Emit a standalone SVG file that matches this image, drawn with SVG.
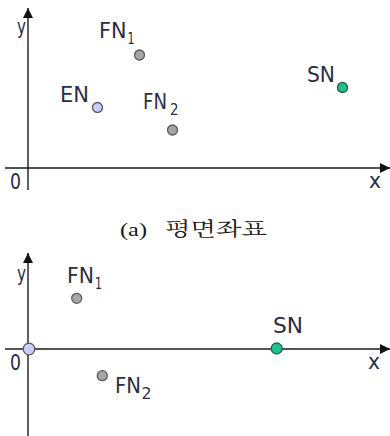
<svg xmlns="http://www.w3.org/2000/svg" width="390" height="436" viewBox="0 0 390 436">
<style>
.ax{stroke:#1a1a1a;stroke-width:1.4;fill:none}
.lb{font-family:"DejaVu Sans",Verdana,sans-serif;font-size:21px;fill:#2b2b48}
.sb{font-family:"DejaVu Sans",Verdana,sans-serif;font-size:15px;fill:#2b2b48}
.fn{fill:#a6a6a6;stroke:#5a5a5a;stroke-width:1.3}
.en{fill:#ccccff;stroke:#5a5a5a;stroke-width:1.3}
.sn{fill:#1ec28e;stroke:#2f5a4a;stroke-width:1.3}
.cap{font-size:19px;fill:#1a1a1a}
</style>
<defs>
<marker id="arr" markerUnits="userSpaceOnUse" markerWidth="10" markerHeight="10" refX="10" refY="5" orient="auto">
<path d="M0,0 L10,5 L0,10 z" fill="#111"/>
</marker>
</defs>
<rect width="390" height="436" fill="#fff"/>
<g id="connectors">
<line class="ax" x1="28" y1="190" x2="28" y2="8" marker-end="url(#arr)"/>
<line class="ax" x1="5" y1="168" x2="390" y2="168" marker-end="url(#arr)"/>
<line class="ax" x1="28" y1="436" x2="28" y2="253" marker-end="url(#arr)"/>
<line class="ax" x1="5" y1="349" x2="390" y2="349" marker-end="url(#arr)"/>
</g>
<g id="axis-labels-top">
<text class="lb" x="17" y="34" textLength="9" lengthAdjust="spacingAndGlyphs">y</text>
<text class="lb" x="10" y="189" textLength="11" lengthAdjust="spacingAndGlyphs">0</text>
<text class="lb" x="369" y="188" textLength="12" lengthAdjust="spacingAndGlyphs">x</text>
</g>
<g id="FN1-top">
<circle class="fn" cx="139.5" cy="55" r="5"/>
<text class="lb" x="99" y="38" textLength="27.5" lengthAdjust="spacingAndGlyphs">FN</text>
<text class="sb" x="127.5" y="44" textLength="7" lengthAdjust="spacingAndGlyphs">1</text>
</g>
<g id="EN-top">
<circle class="en" cx="97.5" cy="107.5" r="5"/>
<text class="lb" x="60" y="102" textLength="29" lengthAdjust="spacingAndGlyphs">EN</text>
</g>
<g id="FN2-top">
<circle class="fn" cx="172.5" cy="130" r="5"/>
<text class="lb" x="143" y="109" textLength="24" lengthAdjust="spacingAndGlyphs">FN</text>
<text class="sb" x="170" y="115" textLength="8.5" lengthAdjust="spacingAndGlyphs">2</text>
</g>
<g id="SN-top">
<circle class="sn" cx="342.5" cy="87.5" r="5"/>
<text class="lb" x="307" y="82" textLength="28" lengthAdjust="spacingAndGlyphs">SN</text>
</g>
<g id="caption">
<text x="120" y="236" class="cap" font-family="'Liberation Serif',serif" textLength="27" lengthAdjust="spacingAndGlyphs">(a)</text>
<text x="165" y="236" class="cap" font-family="'Noto Serif CJK KR','Noto Sans CJK KR',serif" textLength="102" lengthAdjust="spacingAndGlyphs">평면좌표</text>
</g>
<g id="axis-labels-bottom">
<text class="lb" x="17" y="281" textLength="9" lengthAdjust="spacingAndGlyphs">y</text>
<text class="lb" x="10" y="370" textLength="11" lengthAdjust="spacingAndGlyphs">0</text>
<text class="lb" x="368" y="369" textLength="12" lengthAdjust="spacingAndGlyphs">x</text>
</g>
<g id="EN-bottom">
<circle class="en" cx="29" cy="349" r="5.8"/>
</g>
<g id="FN1-bottom">
<circle class="fn" cx="76.7" cy="298.3" r="5"/>
<text class="lb" x="67" y="283" textLength="27" lengthAdjust="spacingAndGlyphs">FN</text>
<text class="sb" x="95" y="289" textLength="7" lengthAdjust="spacingAndGlyphs">1</text>
</g>
<g id="FN2-bottom">
<circle class="fn" cx="102.3" cy="375.7" r="5"/>
<text class="lb" x="115" y="393" textLength="26" lengthAdjust="spacingAndGlyphs">FN</text>
<text class="sb" x="141.5" y="399" textLength="10" lengthAdjust="spacingAndGlyphs">2</text>
</g>
<g id="SN-bottom">
<circle class="sn" cx="276.7" cy="348.5" r="5.5"/>
<text class="lb" x="273" y="333" textLength="30" lengthAdjust="spacingAndGlyphs">SN</text>
</g>
</svg>
